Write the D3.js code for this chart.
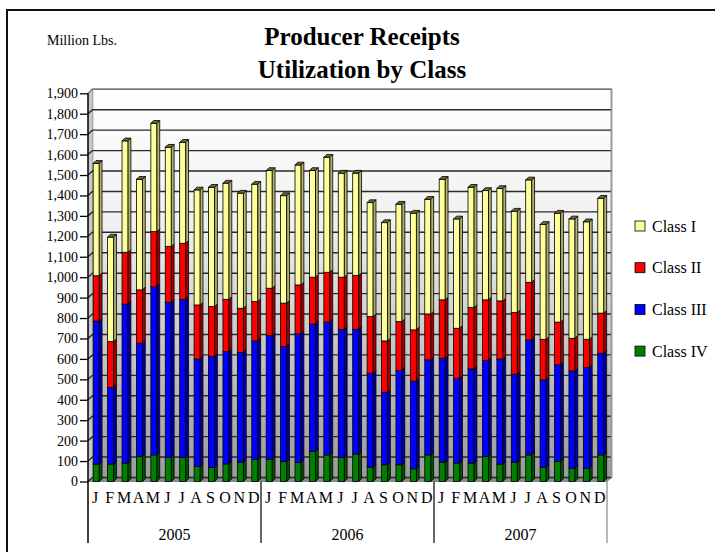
<!DOCTYPE html>
<html>
<head>
<meta charset="utf-8">
<script src="https://cdn.jsdelivr.net/npm/d3@7"></script>
<style>
  body { margin: 0; background: #fff; }
  svg text { font-family: "Liberation Serif", "Times New Roman", serif; fill: #000; }
</style>
</head>
<body>
<svg id="chart" width="715" height="552"></svg>
<script>
// Data (million lbs)
var months = ["J","F","M","A","M","J","J","A","S","O","N","D"];
var years = ["2005", "2006", "2007"];
var classNames = ["Class I", "Class II", "Class III", "Class IV"];
var classColors = ["#ffff99", "#ff0000", "#0000ff", "#008000"];
var sideColors = ["#b3b36b", "#a80000", "#0000a8", "#005400"];

var classIV = [85,85,90,122,130,117,117,73,68,86,95,109,
               109,98,93,147,130,117,134,70,82,82,62,130,
               95,90,90,122,85,95,130,70,98,65,65,130];
var classIII = [700,375,778,555,823,760,773,526,544,550,536,579,
                605,563,630,623,650,628,611,460,355,461,429,465,
                508,414,461,470,514,430,563,427,473,476,493,498];
var classII = [222,225,254,261,270,273,276,265,244,256,217,193,
               232,212,239,230,244,255,263,277,251,240,251,225,
               286,246,300,297,285,302,282,199,209,160,138,196];
var classI = [550,511,545,541,530,486,494,563,584,568,563,574,
              576,526,587,522,563,509,501,558,579,574,571,561,
              590,535,589,535,550,496,501,562,533,584,575,562];

var yTicks = d3.range(0, 2000, 100);

var svg = d3.select("#chart");

// outer frame (open on right/bottom like the picture)
svg.append("path")
    .attr("d", "M7,560 L7,10 L720,10")
    .attr("fill", "none")
    .attr("stroke", "#111")
    .attr("stroke-width", 2);

var left = 88, right = 607, depth = {x: 4.5, y: -4};
var idx = d3.range(36);

var x = d3.scaleBand()
    .domain(idx)
    .range([left, right]);

var y = d3.scaleLinear()
    .domain([0, 1900])
    .range([481.5, 93.3]);

// back wall gradient
var defs = svg.append("defs");
var grad = defs.append("linearGradient")
    .attr("id", "wall")
    .attr("x1", 0).attr("y1", 0).attr("x2", 0).attr("y2", 1);
grad.append("stop").attr("offset", "0%").attr("stop-color", "#ffffff");
grad.append("stop").attr("offset", "35%").attr("stop-color", "#f0f0f0");
grad.append("stop").attr("offset", "100%").attr("stop-color", "#9a9a9a");

svg.append("rect")
    .attr("x", left + depth.x)
    .attr("y", y(1900) + depth.y)
    .attr("width", right - left)
    .attr("height", y(0) - y(1900))
    .attr("fill", "url(#wall)")
    .attr("stroke", "#888")
    .attr("stroke-width", 1.5);

// left side wall
svg.append("path")
    .attr("d", "M" + left + "," + y(1900) + " L" + (left + depth.x) + "," + (y(1900) + depth.y) +
        " L" + (left + depth.x) + "," + (y(0) + depth.y) + " L" + left + "," + y(0) + "Z")
    .attr("fill", "#c8c8c8");

// floor
svg.append("path")
    .attr("d", "M" + left + "," + y(0) + " L" + right + "," + y(0) +
        " L" + (right + depth.x) + "," + (y(0) + depth.y) + " L" + (left + depth.x) + "," + (y(0) + depth.y) + "Z")
    .attr("fill", "#8a8a8a")
    .attr("stroke", "#777")
    .attr("stroke-width", 0.8);

// gridlines on the back wall
svg.append("g")
    .selectAll("path")
    .data(yTicks)
    .enter().append("path")
    .attr("d", function(d) {
        return "M" + left + "," + y(d) + " L" + (left + depth.x) + "," + (y(d) + depth.y) +
            " L" + (right + depth.x) + "," + (y(d) + depth.y);
    })
    .attr("fill", "none")
    .attr("stroke", function(d) { return d == 1900 ? "#777" : "#2a2a2a"; })
    .attr("stroke-width", 1.4);

// stacked bars
var series = [classIV, classIII, classII, classI];
var bw = x.bandwidth();
var barW = bw * 0.42;
var bd = {x: 2.8, y: -2.8};

idx.forEach(function(i) {
    var base = 0;
    var g = svg.append("g");
    series.forEach(function(s, k) {
        var c = 3 - k;   // colour index (Class I is first in legend)
        var y0 = y(base), y1 = y(base + s[i]);
        var bx = x(i) + bw * 0.36;
        g.append("rect")
            .attr("x", bx)
            .attr("y", y1)
            .attr("width", barW)
            .attr("height", y0 - y1)
            .attr("fill", classColors[c])
            .attr("stroke", "#000")
            .attr("stroke-width", 0.8);
        g.append("path")
            .attr("d", "M" + (bx + barW) + "," + y0 + " L" + (bx + barW + bd.x) + "," + (y0 + bd.y) +
                " L" + (bx + barW + bd.x) + "," + (y1 + bd.y) + " L" + (bx + barW) + "," + y1 + "Z")
            .attr("fill", sideColors[c])
            .attr("stroke", "#000")
            .attr("stroke-width", 0.8);
        if (k == 3) {
            g.append("path")
                .attr("d", "M" + bx + "," + y1 + " L" + (bx + bd.x) + "," + (y1 + bd.y) +
                    " L" + (bx + barW + bd.x) + "," + (y1 + bd.y) + " L" + (bx + barW) + "," + y1 + "Z")
                .attr("fill", "#6b6b40")
                .attr("stroke", "#000")
                .attr("stroke-width", 0.8);
        }
        base += s[i];
    });
});

// right wall edge
svg.append("line")
    .attr("x1", right + depth.x).attr("y1", y(1900) + depth.y)
    .attr("x2", right + depth.x).attr("y2", y(0) + depth.y)
    .attr("stroke", "#999").attr("stroke-width", 1.5);

// Y axis
var yAxis = svg.append("g")
    .attr("transform", "translate(" + left + ",0)")
    .call(d3.axisLeft(y).tickValues(yTicks).tickSize(8).tickPadding(2).tickFormat(d3.format(",")));
yAxis.select(".domain").remove();
yAxis.selectAll("line").attr("stroke", "#000").attr("stroke-width", 1.3);
yAxis.selectAll("text").style("font-size", "14px").attr("font-family", null);

// month labels
var xAxis = svg.append("g")
    .attr("transform", "translate(0," + y(0) + ")")
    .call(d3.axisBottom(x).tickSize(0).tickPadding(10).tickFormat(function(d) { return months[d % 12]; }));
xAxis.select(".domain").remove();
xAxis.selectAll("text").style("font-size", "16px").attr("font-family", null);

// year separators and labels
var seps = [0, 12, 24, 36];
svg.selectAll(".sep")
    .data(seps)
    .enter().append("line")
    .attr("class", "sep")
    .attr("x1", function(d) { return d < 36 ? x(d) : right; })
    .attr("x2", function(d) { return d < 36 ? x(d) : right; })
    .attr("y1", function(d) { return d == 0 ? y(1900) : y(0); })
    .attr("y2", 543)
    .attr("stroke", function(d) { return d == 36 ? "#888" : "#000"; })
    .attr("stroke-width", function(d) { return d == 0 ? 1.5 : 1.2; });

svg.selectAll(".year")
    .data(years)
    .enter().append("text")
    .attr("class", "year")
    .attr("x", function(d, i) { return (x(i * 12) + (i < 2 ? x(i * 12 + 12) : right)) / 2; })
    .attr("y", 540)
    .attr("text-anchor", "middle")
    .style("font-size", "16px")
    .text(function(d) { return d; });

// titles
svg.append("text")
    .attr("x", 362).attr("y", 45)
    .attr("text-anchor", "middle")
    .style("font-size", "25px").style("font-weight", "bold")
    .text("Producer Receipts");
svg.append("text")
    .attr("x", 362).attr("y", 78)
    .attr("text-anchor", "middle")
    .style("font-size", "25px").style("font-weight", "bold")
    .text("Utilization by Class");
svg.append("text")
    .attr("x", 47).attr("y", 45)
    .style("font-size", "14px")
    .text("Million Lbs.");

// legend
var legend = svg.selectAll(".legend")
    .data(classNames)
    .enter().append("g")
    .attr("class", "legend")
    .attr("transform", function(d, i) { return "translate(635," + (226 + i * 41.7) + ")"; });

legend.append("rect")
    .attr("x", 0).attr("y", -5)
    .attr("width", 10).attr("height", 10)
    .attr("fill", function(d, i) { return classColors[i]; })
    .attr("stroke", "#000").attr("stroke-width", 0.8);

legend.append("text")
    .attr("x", 17)
    .attr("dy", ".35em")
    .style("font-size", "16px")
    .text(function(d) { return d; });
</script>
</body>
</html>
